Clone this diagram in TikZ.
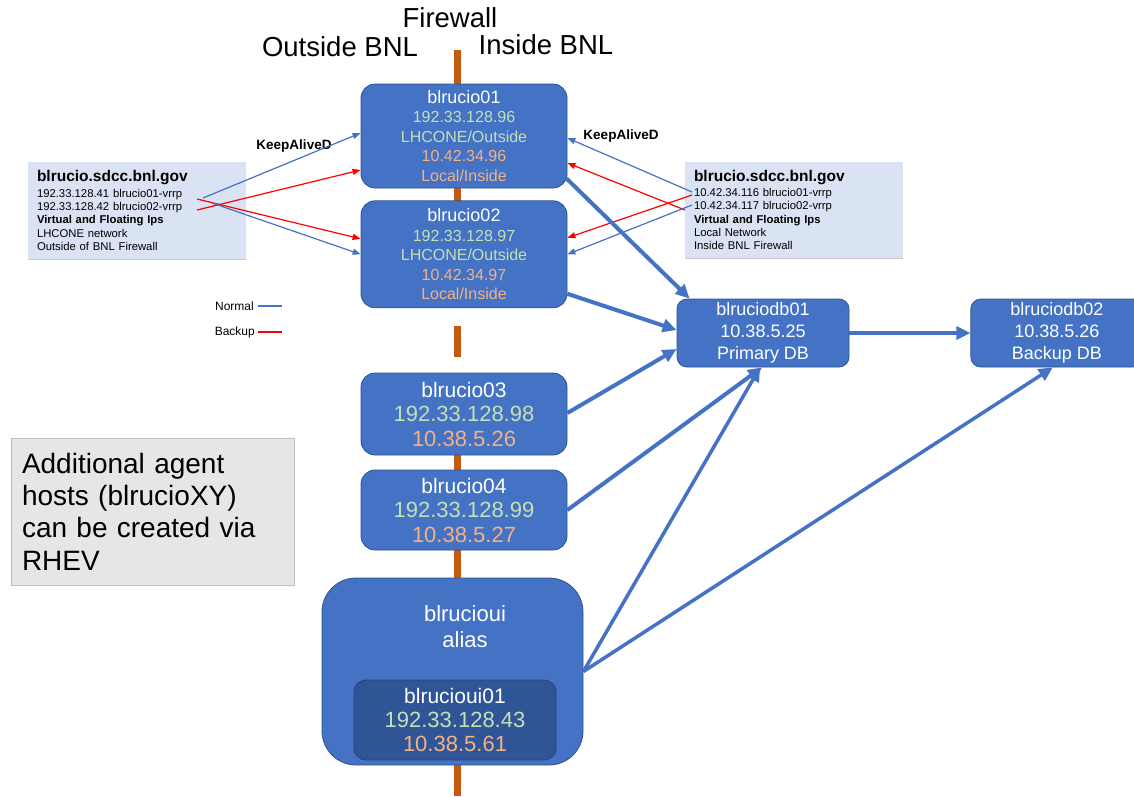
\documentclass[tikz,border=0pt]{standalone}
\usepackage{fontspec}
\setmainfont{Liberation Sans}
\usetikzlibrary{arrows.meta,positioning,calc}
\definecolor{cbox}{HTML}{4472C4}
\definecolor{cboxline}{HTML}{2F528F}
\definecolor{cinner}{HTML}{2F5597}
\definecolor{cgreen}{HTML}{C5E0B4}
\definecolor{corange}{HTML}{F4B183}
\definecolor{cfire}{HTML}{C55A11}
\definecolor{cinfo}{HTML}{DAE3F3}
\definecolor{cnote}{HTML}{E7E6E6}
\definecolor{cred}{HTML}{FF0000}
\newcommand{\fsz}[2]{\fontsize{#1}{#2}\selectfont}

\begin{document}
\begin{tikzpicture}[x=1pt,y=-1pt,
  host/.style={rounded corners=14pt,draw=cboxline,fill=cbox,line width=0.8pt,align=center,
               text=white,minimum width=206pt,inner sep=1pt},
  db/.style={host,rounded corners=10pt,minimum width=172pt,minimum height=68pt,font=\fsz{18}{22}},
  info/.style={fill=cinfo,align=left,text width=200pt,inner xsep=9pt,minimum height=97pt,
               font=\fsz{11.3}{13.3}},
  note/.style={fill=cnote,draw=black!25,align=left,text width=261pt,inner xsep=11pt,
               minimum height=147pt,font=\fsz{28}{32.3}},
  hdr/.style={font=\fsz{27.5}{30},inner sep=0pt},
  keep/.style={font=\bfseries\fsz{13.5}{16},inner sep=0pt},
  vrrp/.style={-{Triangle[length=8pt,width=6pt]},line width=1.2pt},
  dbarr/.style={-{Triangle[length=14pt,width=13pt]},line width=4pt,cbox},
  fire/.style={cfire,line width=7pt}]
  \useasboundingbox (0,0) rectangle (1134,796);
  \fill[white] (0,0) rectangle (1134,796);
  % firewall
  \node[hdr] (fw) at (450,18) {Firewall};
  \node[hdr] (outs) at (340,47) {Outside BNL};
  \node[hdr] (ins) at (546,45) {Inside BNL};
  \draw[fire] (457,50) -- (457,307);
  \draw[fire] (457,326) -- (457,357);
  \draw[fire] (457,373) -- (457,796);
  % rucio servers
  \node[host,minimum height=104pt,font=\fsz{16}{19.5}] (r01) at (464,136)
    {{\fsz{18}{19.5}blrucio01}\\\textcolor{cgreen}{192.33.128.96}\\\textcolor{cgreen}{LHCONE/Outside}\\
     \textcolor{corange}{10.42.34.96}\\\textcolor{corange}{Local/Inside}};
  \node[host,minimum height=107pt,font=\fsz{16}{19.5},below=12pt of r01] (r02)
    {{\fsz{18}{19.5}blrucio02}\\\textcolor{cgreen}{192.33.128.97}\\\textcolor{cgreen}{LHCONE/Outside}\\
     \textcolor{corange}{10.42.34.97}\\\textcolor{corange}{Local/Inside}};
  % agent hosts
  \node[host,minimum height=82pt,font=\fsz{22}{24.5}] (r03) at (464,414)
    {{\fsz{21}{24.5}blrucio03}\\\textcolor{cgreen}{192.33.128.98}\\\textcolor{corange}{10.38.5.26}};
  \node[host,minimum height=80pt,font=\fsz{22}{24.5}] (r04) at (464,510)
    {{\fsz{21}{24.5}blrucio04}\\\textcolor{cgreen}{192.33.128.99}\\\textcolor{corange}{10.38.5.27}};
  % web ui
  \node[host,rounded corners=34pt,minimum width=261pt,minimum height=187pt] (ui) at (452.5,671.5) {};
  \node[text=white,font=\fsz{22}{26},align=center,inner sep=0pt] (uilbl) at (465,627) {blrucioui\\alias};
  \node[host,fill=cinner,draw=cinner!80!black,rounded corners=12pt,minimum width=202pt,
        minimum height=80pt,font=\fsz{22}{24}] (ui01) at (455,720)
    {{\fsz{21}{24}blrucioui01}\\\textcolor{cgreen}{192.33.128.43}\\\textcolor{corange}{10.38.5.61}};
  % databases
  \node[db] (db01) at (763,333) {blruciodb01\\10.38.5.25\\Primary DB};
  \node[db,right=121pt of db01] (db02) {blruciodb02\\10.38.5.26\\Backup DB};
  % floating ip boxes
  \node[info] (infoL) at (137,210.5)
    {{\bfseries\fsz{15.5}{14}blrucio.sdcc.bnl.gov}\\[2pt]192.33.128.41 blrucio01-vrrp\\
     192.33.128.42 blrucio02-vrrp\\\textbf{Virtual and Floating Ips}\\LHCONE network\\Outside of BNL Firewall};
  \node[info] (infoR) at (794,210)
    {{\bfseries\fsz{15.5}{14}blrucio.sdcc.bnl.gov}\\[2pt]10.42.34.116 blrucio01-vrrp\\
     10.42.34.117 blrucio02-vrrp\\\textbf{Virtual and Floating Ips}\\Local Network\\Inside BNL Firewall};
  \draw[black!20,line width=1pt] (infoL.south west) -- (infoL.south east);
  \draw[black!20,line width=1pt] (infoR.south west) -- (infoR.south east);
  \node[keep] (kaL) at (294,146) {KeepAliveD};
  \node[keep] (kaR) at (621,136) {KeepAliveD};
  % legend
  \node[font=\fsz{12}{14},inner sep=0pt,anchor=east] (lgN) at (254,306) {Normal};
  \node[font=\fsz{12}{14},inner sep=0pt,anchor=east] (lgB) at (255,332) {Backup};
  \draw[cbox,line width=1.2pt] ([xshift=4pt]lgN.east) -- ++(24,0);
  \draw[cred,line width=1.2pt] ([xshift=3pt]lgB.east) -- ++(24,0);
  \node[note] (note) at (152.5,511.5) {Additional agent\\hosts (blrucioXY)\\can be created via\\RHEV};
  % keepalived links
  \coordinate (vL1) at (203,198);
  \coordinate (vL2) at (197,199);
  \coordinate (vL3) at (197,210);
  \coordinate (vL4) at (212,203);
  \draw[vrrp,cbox] (vL1) -- ([yshift=3pt]r01.west);
  \draw[vrrp,cred] (vL2) -- ([yshift=15.5pt]r02.west);
  \draw[vrrp,cred] (vL3) -- ([yshift=-34pt]r01.west);
  \draw[vrrp,cbox] (vL4) -- (r02.west);
  \coordinate (vR1) at (692,192);
  \coordinate (vR2) at (685,210);
  \coordinate (vR3) at (692,195);
  \coordinate (vR4) at (692,205);
  \draw[vrrp,cbox] (vR1) -- ([yshift=-2pt]r01.east);
  \draw[vrrp,cred] (vR2) -- ([yshift=-27pt]r01.east);
  \draw[vrrp,cred] (vR3) -- ([yshift=16.5pt]r02.east);
  \draw[vrrp,cbox] (vR4) -- (r02.east);
  % database links
  \draw[dbarr] ([xshift=-1pt,yshift=10pt]r01.south east) -- ([xshift=13pt]db01.north west);
  \draw[dbarr] ([yshift=-39.5pt]r02.east) -- ([yshift=3pt]db01.west);
  \draw[dbarr] ([yshift=1pt]r03.east) -- ([yshift=-16pt]db01.west);
  \draw[dbarr] (r04.east) -- ([xshift=-1pt]db01.south);
  \draw[dbarr,line width=3.5pt] (ui.east) -- ([xshift=-3pt]db01.south);
  \draw[dbarr,line width=3.5pt] (ui.east) -- ([xshift=-4pt]db02.south);
  \draw[dbarr,line width=3.5pt] (db01.east) -- (db02.west);
\end{tikzpicture}
\end{document}
